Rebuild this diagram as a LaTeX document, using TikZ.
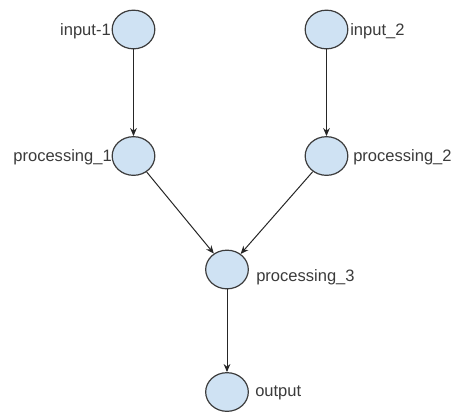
\documentclass[tikz,border=0pt]{standalone}
\usepackage{fontspec}
\setmainfont{Liberation Sans}
\usetikzlibrary{shapes.geometric,arrows.meta}
\definecolor{nodefill}{HTML}{CFE2F3}
\definecolor{nodeline}{HTML}{3C3C3C}
\definecolor{txt}{HTML}{3A3A3A}
\begin{document}
\begin{tikzpicture}[x=0.75pt,y=-0.75pt,
  vert/.style={ellipse,draw=nodeline,fill=nodefill,line width=0.9pt,minimum width=32pt,minimum height=29pt,inner sep=0pt},
  lbl/.style={text=txt,font=\fontsize{12.4}{14}\selectfont,inner sep=0pt},
  conn/.style={draw=black!85,line width=0.75pt,-{Stealth[length=6pt,width=5pt]}}]
\useasboundingbox (0,0) rectangle (451,412);
\node[vert] (i1) at (133.5,29.5) {};
\node[vert] (i2) at (326.5,29.5) {};
\node[vert] (p1) at (133.5,156) {};
\node[vert] (p2) at (326.5,156) {};
\node[vert] (p3) at (227,269.5) {};
\node[vert] (o) at (227,392) {};
\node[lbl,anchor=east] (li1) at (111,31) {input-1};
\node[lbl,anchor=west] (li2) at (350,31) {input\_2};
\node[lbl,anchor=east] (lp1) at (112,157) {processing\_1};
\node[lbl,anchor=west] (lp2) at (353,157) {processing\_2};
\node[lbl,anchor=west] (lp3) at (256,277) {processing\_3};
\node[lbl,anchor=west] (lo) at (255,393) {output};
\draw[conn] (i1) -- (p1);
\draw[conn] (i2) -- (p2);
\draw[conn] (p1) -- (p3);
\draw[conn] (p2) -- (p3);
\draw[conn] (p3) -- (o);
\end{tikzpicture}
\end{document}
